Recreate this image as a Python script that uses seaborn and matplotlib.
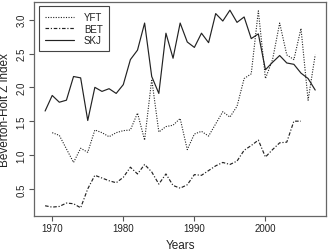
import matplotlib
matplotlib.use("Agg")
import matplotlib.pyplot as plt
import seaborn as sns
import numpy as np
import pandas as pd

# Z index series
years_yft = list(range(1970, 2008))
yft = [1.33, 1.29, 1.09, 0.89, 1.10, 1.04, 1.37, 1.33, 1.27, 1.33,
       1.36, 1.37, 1.62, 1.22, 2.12, 1.34, 1.42, 1.44, 1.54, 1.08,
       1.31, 1.35, 1.28, 1.46, 1.64, 1.56, 1.72, 2.13, 2.20, 3.13,
       2.13, 2.41, 2.95, 2.48, 2.41, 2.87, 1.81, 2.48]

years_bet = list(range(1969, 2006))
bet = [0.25, 0.23, 0.24, 0.29, 0.28, 0.22, 0.50, 0.70, 0.66, 0.62,
       0.59, 0.67, 0.82, 0.72, 0.86, 0.75, 0.57, 0.72, 0.55, 0.51,
       0.56, 0.71, 0.70, 0.77, 0.84, 0.89, 0.86, 0.91, 1.07, 1.14,
       1.22, 0.97, 1.08, 1.18, 1.19, 1.50, 1.50]

years_skj = list(range(1969, 2008))
skj = [1.65, 1.88, 1.78, 1.81, 2.16, 2.14, 1.51, 2.00, 1.94, 1.98,
       1.91, 2.04, 2.41, 2.55, 2.95, 2.16, 1.91, 2.80, 2.43, 2.95,
       2.67, 2.59, 2.80, 2.66, 3.09, 2.98, 3.14, 2.96, 3.04, 2.72,
       2.79, 2.26, 2.37, 2.47, 2.36, 2.34, 2.21, 2.13, 1.96]

x_ticks = [1970, 1980, 1990, 2000]
y_ticks = [0.5, 1.0, 1.5, 2.0, 2.5, 3.0]

sns.set_style("white")
plt.rcParams["font.family"] = ["Liberation Sans", "DejaVu Sans"]

fig = plt.figure(figsize=(3.33, 2.53), dpi=100)
ax = fig.add_axes([0.103, 0.1435, 0.876, 0.8435])

line_col = "#222222"
sns.lineplot(x=years_yft, y=yft, ax=ax, color=line_col, lw=0.8,
             linestyle=(0, (1, 1.3)), label="YFT")
sns.lineplot(x=years_bet, y=bet, ax=ax, color=line_col, lw=0.85,
             linestyle=(0, (3, 1.5, 1, 1.5)), label="BET")
sns.lineplot(x=years_skj, y=skj, ax=ax, color=line_col, lw=0.85,
             linestyle="-", label="SKJ")

# R-style 4% padding around the data range
all_x = years_yft + years_bet + years_skj
all_y = yft + bet + skj
xr = max(all_x) - min(all_x)
yr = max(all_y) - min(all_y)
ax.set_xlim(min(all_x) - 0.04 * xr, max(all_x) + 0.04 * xr)
ax.set_ylim(min(all_y) - 0.04 * yr, max(all_y) + 0.04 * yr)

ax.set_xticks(x_ticks)
ax.set_yticks(y_ticks)
ax.set_yticklabels([f"{v:.1f}" for v in y_ticks], rotation=90, va="center")
ax.tick_params(direction="out", length=3.5, width=0.8, color="#555555",
               labelsize=7, labelcolor="#222222", pad=2,
               bottom=True, left=True)
for sp in ax.spines.values():
    sp.set_color("#666666")
    sp.set_linewidth(0.9)

ax.set_xlabel("Years", fontsize=8.5, color="#222222", labelpad=4)
ax.set_ylabel("Beverton-Holt Z index", fontsize=8.5, color="#222222", labelpad=4)

leg = ax.legend(loc="upper left", bbox_to_anchor=(0.017, 0.981), borderaxespad=0,
                fontsize=7, frameon=True, fancybox=False, framealpha=1,
                edgecolor="#444444", handlelength=3.0, handletextpad=1.0,
                labelspacing=0.15, borderpad=0.6)
leg.get_frame().set_linewidth(0.8)
for t in leg.get_texts():
    t.set_color("#222222")

fig.savefig("out.png", dpi=100)
